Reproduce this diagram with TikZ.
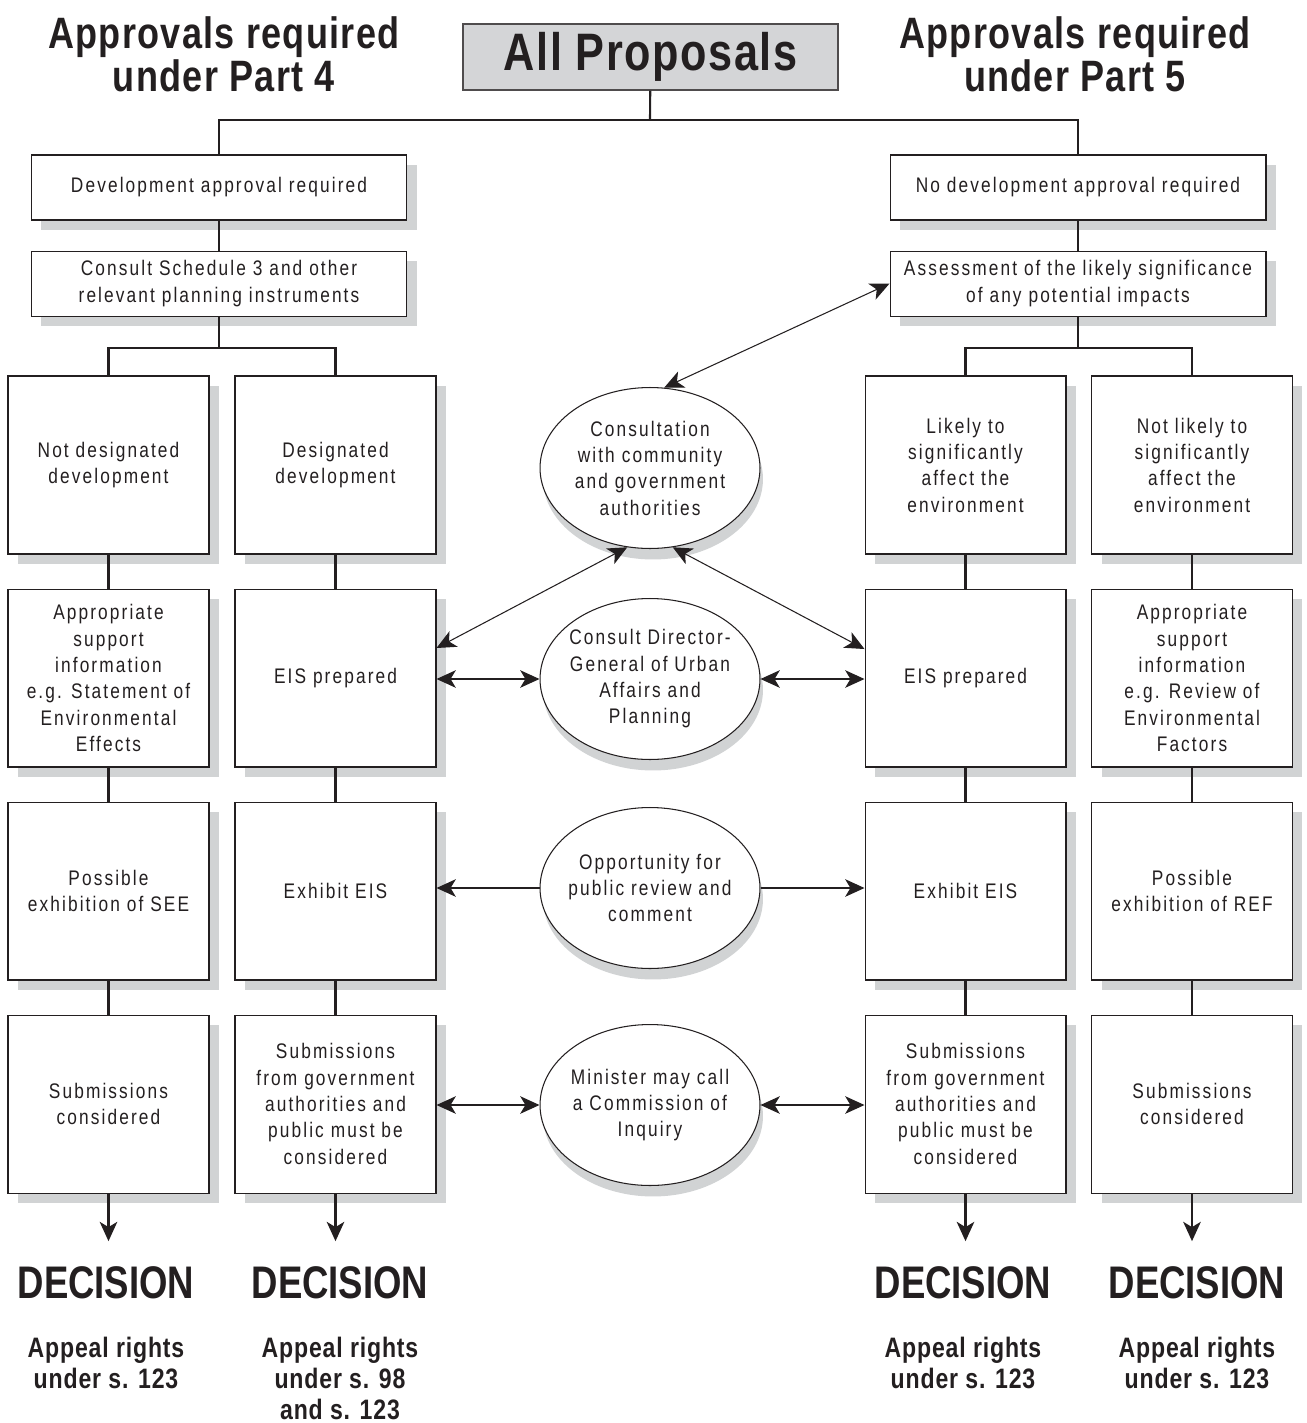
\documentclass[tikz,border=0pt]{standalone}
\usepackage{fontspec}
\IfFontExistsTF{Liberation Sans Narrow}{%
  \setmainfont{Liberation Sans Narrow}[LetterSpace=10]
  \newfontfamily\headfont{Liberation Sans Narrow}[LetterSpace=3]
  \newfontfamily\decfont{Liberation Sans Narrow}[FakeStretch=0.97]
}{%
  \setmainfont{Liberation Sans}[FakeStretch=0.82, LetterSpace=10]
  \newfontfamily\headfont{Liberation Sans}[FakeStretch=0.82, LetterSpace=3]
  \newfontfamily\decfont{Liberation Sans}[FakeStretch=0.8]
}
\usepackage{tikz}
\usetikzlibrary{positioning, shapes.geometric, arrows.meta, shadows}

\definecolor{ink}{HTML}{231F20}
\definecolor{shade}{HTML}{D1D3D4}
\definecolor{panel}{HTML}{D4D5D7}

\begin{document}
\begin{tikzpicture}[
    x=0.02cm, y=-0.02cm,
    font=\fontsize{12}{15}\selectfont,
    box/.style={rectangle, draw=ink, line width=0.6pt, fill=white, text=ink, align=center, inner sep=2pt,
      drop shadow={shadow xshift=0.2cm, shadow yshift=-0.2cm, fill=shade, opacity=1}},
    widebox/.style={box, minimum width=7.52cm, minimum height=1.3cm},
    stagebox/.style={box, minimum width=4.02cm, minimum height=3.56cm},
    talk/.style={ellipse, draw=ink, line width=0.6pt, fill=white, text=ink, align=center,
      inner xsep=-0.15cm, inner ysep=0pt, minimum width=4.4cm, minimum height=3.22cm,
      drop shadow={shadow xshift=0.06cm, shadow yshift=-0.22cm, fill=shade, opacity=1}},
    heading/.style={text=ink, align=center, inner sep=0pt, font=\headfont\bfseries\fontsize{25}{24.4}\selectfont},
    decision/.style={text=ink, inner sep=0pt, anchor=base, font=\decfont\bfseries\fontsize{26}{26}\selectfont},
    appeal/.style={text=ink, align=center, inner sep=0pt, font=\headfont\bfseries\fontsize{16}{17.6}\selectfont},
    link/.style={draw=ink, line width=1.2pt},
    tip/.tip={Stealth[length=11pt, width=10pt, inset=3pt]},
    arrow/.style={draw=ink, -tip, line width=0.6pt},
    twoway/.style={draw=ink, tip-tip, line width=0.6pt},
    todecide/.style={draw=ink, -tip, line width=1.2pt, shorten >=14pt}
]
\useasboundingbox (0,0) rectangle (1306,1423);

% Headings
\node[heading] (partfour) at (224,54) {Approvals required\\under Part 4};
\node[heading] (partfive) at (1075,54) {Approvals required\\under Part 5};
\node[rectangle, draw=ink!80, line width=0.8pt, fill=panel, text=ink, minimum width=7.5cm, minimum height=1.32cm,
  font=\headfont\bfseries\fontsize{30}{30}\selectfont] (allprop) at (650.5,57) {All Proposals};

% Top boxes
\node[widebox] (devreq) at (219,187.5) {Development approval required};
\node[widebox, below=0.6cm of devreq] (schedule) {Consult Schedule 3 and other\\relevant planning instruments};
\node[widebox] (nodevreq) at (1078,187.5) {No development approval required};
\node[widebox, below=0.6cm of nodevreq] (assess) {Assessment of the likely significance\\of any potential impacts};

% Part 4 columns
\node[stagebox] (notdesig) at (108.5,465) {Not designated\\development};
\node[stagebox, below=0.68cm of notdesig] (seeinfo) {Appropriate\\support\\information\\e.g. Statement of\\Environmental\\Effects};
\node[stagebox, below=0.68cm of seeinfo] (seeshow) {Possible\\exhibition of SEE};
\node[stagebox, below=0.68cm of seeshow] (subsee) {Submissions\\considered};

\node[stagebox] (desig) at (335.5,465) {Designated\\development};
\node[stagebox, below=0.68cm of desig] (eisleft) {EIS prepared};
\node[stagebox, below=0.68cm of eisleft] (showleft) {Exhibit EIS};
\node[stagebox, below=0.68cm of showleft] (subleft) {Submissions\\from government\\authorities and\\public must be\\considered};

% Part 5 columns
\node[stagebox] (likely) at (965.5,465) {Likely to\\significantly\\affect the\\environment};
\node[stagebox, below=0.68cm of likely] (eisright) {EIS prepared};
\node[stagebox, below=0.68cm of eisright] (showright) {Exhibit EIS};
\node[stagebox, below=0.68cm of showright] (subright) {Submissions\\from government\\authorities and\\public must be\\considered};

\node[stagebox] (notlikely) at (1192,465) {Not likely to\\significantly\\affect the\\environment};
\node[stagebox, below=0.68cm of notlikely] (refinfo) {Appropriate\\support\\information\\e.g. Review of\\Environmental\\Factors};
\node[stagebox, below=0.68cm of refinfo] (refshow) {Possible\\exhibition of REF};
\node[stagebox, below=0.68cm of refshow] (subref) {Submissions\\considered};

% Consultation ellipses
\node[talk] (community) at (650,468) {Consultation\\with community\\and government\\authorities};
\node[talk] (director) at (650,679) {Consult Director-\\General of Urban\\Affairs and\\Planning};
\node[talk] (review) at (650,888) {Opportunity for\\public review and\\comment};
\node[talk] (inquiry) at (650,1105) {Minister may call\\a Commission of\\Inquiry};

% Decisions
\node[decision] (decsee) at (106,1298) {DECISION};
\node[decision] (decleft) at (340,1298) {DECISION};
\node[decision] (decright) at (963,1298) {DECISION};
\node[decision] (decref) at (1197,1298) {DECISION};
\node[appeal, below=0.76cm of decsee] (appsee) {Appeal rights\\under s. 123};
\node[appeal, below=0.76cm of decleft] (appleft) {Appeal rights\\under s. 98\\and s. 123};
\node[appeal, below=0.76cm of decright] (appright) {Appeal rights\\under s. 123};
\node[appeal, below=0.76cm of decref] (appref) {Appeal rights\\under s. 123};

% Tree lines
\coordinate (topsplit) at (650,120);
\coordinate (leftsplit) at (219,348);
\coordinate (rightsplit) at (1078,348);
\draw[link] (allprop) -- (topsplit);
\draw[link] (devreq.north) |- (topsplit) -| (nodevreq.north);
\draw[link] (devreq) -- (schedule);
\draw[link] (nodevreq) -- (assess);
\draw[link] (schedule) -- (leftsplit);
\draw[link] (assess) -- (rightsplit);
\draw[link] (notdesig.north) |- (leftsplit) -| (desig.north);
\draw[link] (likely.north) |- (rightsplit) -| (notlikely.north);

% Column lines
\draw[link] (notdesig) -- (seeinfo);
\draw[link] (seeinfo) -- (seeshow);
\draw[link] (seeshow) -- (subsee);
\draw[link] (desig) -- (eisleft);
\draw[link] (eisleft) -- (showleft);
\draw[link] (showleft) -- (subleft);
\draw[link] (likely) -- (eisright);
\draw[link] (eisright) -- (showright);
\draw[link] (showright) -- (subright);
\draw[link] (notlikely) -- (refinfo);
\draw[link] (refinfo) -- (refshow);
\draw[link] (refshow) -- (subref);

% Arrows to decisions
\draw[todecide] (subsee.south) -- (subsee.south |- decsee.north);
\draw[todecide] (subleft.south) -- (subleft.south |- decleft.north);
\draw[todecide] (subright.south) -- (subright.south |- decright.north);
\draw[todecide] (subref.south) -- (subref.south |- decref.north);

% Consultation arrows
\draw[twoway] (community.80) -- (assess.west);
\draw[twoway] (community.254) -- ([yshift=0.6cm]eisleft.east);
\draw[twoway] (community.286) -- ([yshift=0.58cm]eisright.west);
\draw[twoway] (director.west) -- (director.west -| eisleft.east);
\draw[twoway] (director.east) -- (director.east -| eisright.west);
\draw[arrow] (review.west) -- (review.west -| showleft.east);
\draw[arrow] (review.east) -- (review.east -| showright.west);
\draw[twoway] (inquiry.west) -- (inquiry.west -| subleft.east);
\draw[twoway] (inquiry.east) -- (inquiry.east -| subright.west);

\end{tikzpicture}
\end{document}
